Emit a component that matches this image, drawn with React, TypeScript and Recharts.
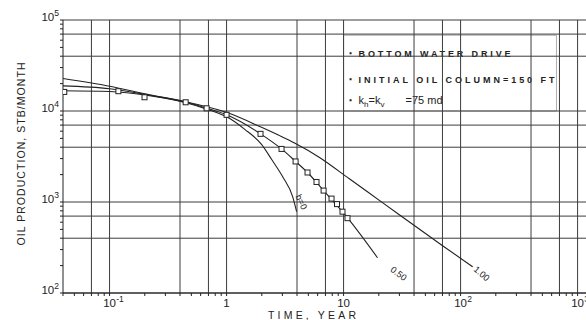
import { ComposedChart, Line, Scatter, XAxis, YAxis, ReferenceLine, ReferenceArea, ReferenceDot } from 'recharts'

const font = '"Liberation Sans", Arial, Helvetica, sans-serif'
const ink = '#222'
const gridInk = '#3c3c3c'

// b = 0 (exponential)
const timeB0 = [0.04, 0.1, 0.22, 0.45, 0.68, 1.02, 1.43, 1.99, 2.43, 3.01, 3.67, 3.97]
const rateB0 = [16700, 16400, 14700, 12300, 10450, 8520, 6290, 4290, 2930, 1905, 1147, 783]

// b = 0.50
const timeB05 = [0.04, 0.1, 0.22, 0.45, 0.68, 1.0, 1.95, 2.95, 3.89, 4.92, 6.75, 9.79, 19.5]
const rateB05 = [18870, 17570, 14900, 12470, 10710, 9080, 5610, 3830, 2790, 2110, 1335, 783, 244]

// b = 1.00 (harmonic)
const timeB1 = [0.04, 0.1, 0.22, 0.45, 0.68, 1.02, 1.99, 2.8, 3.81, 6.23, 11.2, 21.5, 70.2, 127]
const rateB1 = [22760, 18720, 15090, 12630, 11120, 9550, 6610, 5400, 4450, 3090, 1800, 985, 331, 194]

// simulated points (squares)
const timeSim = [0.041, 0.119, 0.199, 0.447, 0.675, 1.0, 1.95, 2.95, 3.89, 4.92, 5.87, 6.75, 7.89, 8.79, 9.79, 10.8]
const rateSim = [16200, 16500, 14160, 12470, 10710, 9080, 5610, 3830, 2790, 2110, 1660, 1335, 1090, 948, 783, 664]

const xGrid = [0.07, 0.1, 0.4, 0.7, 1, 4, 7, 10, 40, 70, 100, 400, 700, 1000]
const yGrid = [100, 400, 700, 1000, 4000, 7000, 10000, 40000, 70000, 100000]

const xTicks = [
  0.04, 0.05, 0.06, 0.07, 0.08, 0.09, 0.1, 0.2, 0.3, 0.4, 0.5, 0.6, 0.7, 0.8, 0.9,
  1, 2, 3, 4, 5, 6, 7, 8, 9, 10, 20, 30, 40, 50, 60, 70, 80, 90,
  100, 200, 300, 400, 500, 600, 700, 800, 900, 1000,
]
const yTicks = [
  100, 200, 300, 400, 500, 600, 700, 800, 900,
  1000, 2000, 3000, 4000, 5000, 6000, 7000, 8000, 9000,
  10000, 20000, 30000, 40000, 50000, 60000, 70000, 80000, 90000, 100000,
]
const xTickLabels: Record<number, [string, string]> = {
  0.1: ['10', '-1'],
  1: ['1', ''],
  10: ['10', ''],
  100: ['10', '2'],
  1000: ['10', '3'],
}
const yTickLabels: Record<number, string> = { 100: '2', 1000: '3', 10000: '4', 100000: '5' }

const curveLabels = [
  { text: 'b=0', t: 4.35, q: 1000, angle: 65 },
  { text: '0.50', t: 29.5, q: 163, angle: 38 },
  { text: '1.00', t: 151, q: 163, angle: 40 },
]
const notes = ['BOTTOM WATER DRIVE', 'INITIAL OIL COLUMN=150 FT']
const noteWidths = [152, 196]

const zip = (t: number[], q: number[]) => t.map((v, i) => ({ t: v, q: q[i] }))

function XTick({ x, y, payload }: any) {
  const lbl = xTickLabels[payload.value]
  if (!lbl) return <g />
  const half = lbl[0].length * 3.3
  return (
    <g fontFamily={font} fill={ink}>
      <text x={x} y={y + 9} fontSize={11.5} textAnchor="middle">{lbl[0]}</text>
      {lbl[1] && <text x={x + half} y={y + 4} fontSize={8.5} textAnchor="start">{lbl[1]}</text>}
    </g>
  )
}

function YTick({ x, y, payload }: any) {
  const sup = yTickLabels[payload.value]
  if (!sup) return <g />
  return (
    <text x={x + 1} y={y + 1} textAnchor="end" fontSize={11.5} fill={ink} fontFamily={font}>
      10<tspan fontSize={8.5} dy={-5}>{sup}</tspan>
    </text>
  )
}

function NoteBox({ viewBox }: any) {
  const x0 = viewBox.x
  const y0 = viewBox.y
  return (
    <g fontFamily={font} fill={ink}>
      {notes.map((n, i) => (
        <g key={n}>
          <rect x={x0 + 6} y={y0 + 17 + i * 26} width={2} height={2} />
          <text x={x0 + 15} y={y0 + 22 + i * 26} fontSize={9} fontWeight="bold" textLength={noteWidths[i]} lengthAdjust="spacing">{n}</text>
        </g>
      ))}
      <rect x={x0 + 6} y={y0 + 64} width={2} height={2} />
      <text x={x0 + 15} y={y0 + 69} fontSize={11}>
        k<tspan fontSize={8} dy={3}>h</tspan><tspan dy={-3}>=k</tspan><tspan fontSize={8} dy={3}>v</tspan>
        <tspan dy={-3} x={x0 + 62}>=75 md</tspan>
      </text>
    </g>
  )
}

export default function App() {
  return (
    <div style={{ width: 586, height: 320, overflow: 'hidden', background: '#fff' }}>
      <style>{'body{margin:0}'}</style>
      <ComposedChart width={586} height={320} margin={{ top: 20, right: 0, bottom: 0, left: 0 }}>
        <XAxis
          dataKey="t"
          type="number"
          scale="log"
          domain={[0.04, 1180]}
          allowDataOverflow
          ticks={xTicks}
          interval={0}
          tick={<XTick />}
          tickSize={3}
          height={27}
          stroke={ink}
          label={() => (
            <text x={312} y={318.5} fontSize={10.5} fill={ink} fontFamily={font} textAnchor="middle" textLength={88} lengthAdjust="spacing">
              TIME, YEAR
            </text>
          )}
        />
        <YAxis
          type="number"
          scale="log"
          domain={[100, 100000]}
          allowDataOverflow
          ticks={yTicks}
          interval={0}
          tick={<YTick />}
          tickSize={3}
          width={63}
          stroke={ink}
          label={() => (
            <text x={25} y={154} transform="rotate(-90 25 154)" fontSize={10.5} fill={ink} fontFamily={font} textAnchor="middle" textLength={183} lengthAdjust="spacing">
              OIL PRODUCTION, STB/MONTH
            </text>
          )}
        />
        {xGrid.map((v) => (
          <ReferenceLine key={'x' + v} x={v} stroke={gridInk} strokeWidth={1} />
        ))}
        {yGrid.map((v) => (
          <ReferenceLine key={'y' + v} y={v} stroke={gridInk} strokeWidth={1} />
        ))}
        <ReferenceArea
          x1={10}
          x2={660}
          y1={10000}
          y2={68000}
          fill="#fff"
          fillOpacity={1}
          stroke="#777"
          strokeWidth={0.6}
          label={(p: any) => <NoteBox viewBox={p.viewBox} />}
        />
        <Line data={zip(timeB0, rateB0)} dataKey="q" type="monotone" stroke={ink} strokeWidth={1.1} dot={false} isAnimationActive={false} />
        <Line data={zip(timeB05, rateB05)} dataKey="q" type="monotone" stroke={ink} strokeWidth={1.1} dot={false} isAnimationActive={false} />
        <Line data={zip(timeB1, rateB1)} dataKey="q" type="monotone" stroke={ink} strokeWidth={1.1} dot={false} isAnimationActive={false} />
        <Scatter
          data={zip(timeSim, rateSim)}
          dataKey="q"
          isAnimationActive={false}
          shape={(p: any) => <rect x={p.cx - 2.5} y={p.cy - 2.5} width={5} height={5} fill="#fff" stroke={ink} strokeWidth={1} />}
        />
        {curveLabels.map((l) => (
          <ReferenceDot
            key={l.text}
            x={l.t}
            y={l.q}
            r={0}
            shape={(p: any) => (
              <text
                x={p.cx}
                y={p.cy}
                transform={`rotate(${l.angle} ${p.cx} ${p.cy})`}
                fontSize={9}
                fill={ink}
                fontFamily={font}
                textAnchor="middle"
                dominantBaseline="central"
              >
                {l.text}
              </text>
            )}
          />
        ))}
      </ComposedChart>
    </div>
  )
}
